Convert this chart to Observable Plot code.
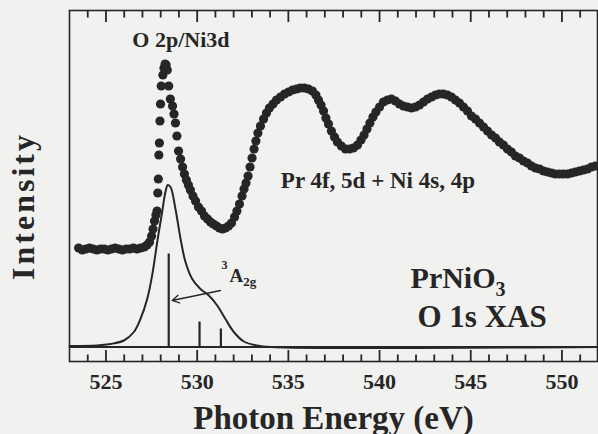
<!DOCTYPE html>
<html><head><meta charset="utf-8">
<script src="https://cdn.jsdelivr.net/npm/d3@7"></script>
<script src="https://cdn.jsdelivr.net/npm/@observablehq/plot@0.6"></script>
<style>
html,body{margin:0;padding:0;background:#f1f1ef;}
#chart{width:598px;height:434px;}
</style></head><body><div id="chart"></div>
<script>
// Experimental O 1s XAS spectrum (dots)
const expEnergy = [
523.5, 523.7, 523.9, 524.1, 524.3, 524.5, 524.7, 524.9, 525.1, 525.3, 525.5, 525.7, 525.9, 526.1, 526.3, 526.5, 526.7, 526.9, 527.1, 527.25,
527.39, 527.50, 527.58, 527.66, 527.74, 527.80, 527.84, 527.87, 527.90, 527.93, 527.96, 527.99, 528.03,
528.12, 528.18, 528.24, 528.30, 528.36,
528.44, 528.53, 528.65, 528.73, 528.81,
528.89, 528.98, 529.09, 529.20, 529.30, 529.41, 529.52, 529.63, 529.77, 529.91,
530.07, 530.24, 530.40, 530.57, 530.73, 530.89, 531.06, 531.22, 531.39, 531.55,
531.72, 531.88, 532.05, 532.18, 532.32, 532.46, 532.57, 532.68, 532.79, 532.90,
533.01, 533.12, 533.22, 533.33, 533.47, 533.64, 533.80, 533.96, 534.16, 534.35,
534.57, 534.79, 535.01, 535.23, 535.45, 535.66, 535.88, 536.10, 536.32, 536.51,
536.65, 536.79, 536.93, 537.06, 537.20, 537.36, 537.53, 537.69, 537.91, 538.13,
538.35, 538.57, 538.79, 538.98, 539.15, 539.31, 539.47, 539.64, 539.80, 540.00,
540.21, 540.43, 540.65, 540.87, 541.09, 541.31, 541.53, 541.75, 541.97, 542.19,
542.41, 542.63, 542.85, 543.07, 543.28, 543.50, 543.72, 543.94, 544.16, 544.38,
544.60, 544.82, 545.04, 545.26, 545.48, 545.70, 545.92, 546.14, 546.36, 546.57,
546.79, 547.01, 547.23, 547.45, 547.67, 547.89, 548.11, 548.33, 548.55, 548.77,
548.99, 549.21, 549.43, 549.64, 549.86, 550.08, 550.30, 550.52, 550.74, 550.96,
551.18, 551.40, 551.62, 551.84
];
const expIntensity = [
0.99, 0.97, 0.98, 0.99, 0.98, 0.97, 0.98, 0.98, 0.97, 0.98, 0.99, 0.98, 0.97, 0.98, 0.98, 0.99, 0.98, 0.99, 1.00, 1.02,
1.05, 1.11, 1.18, 1.26, 1.32, 1.36, 1.54, 1.68, 1.92, 2.04, 2.26, 2.43, 2.61,
2.72, 2.79, 2.83, 2.82, 2.77,
2.61, 2.48, 2.41, 2.33, 2.24,
2.11, 1.96, 1.88, 1.80, 1.73, 1.67, 1.62, 1.57, 1.51, 1.46,
1.40, 1.36, 1.31, 1.28, 1.25, 1.23, 1.21, 1.19, 1.18, 1.19,
1.21, 1.24, 1.30, 1.36, 1.43, 1.51, 1.58, 1.64, 1.71, 1.80,
1.89, 1.98, 2.06, 2.14, 2.21, 2.28, 2.34, 2.39, 2.43, 2.47,
2.50, 2.53, 2.55, 2.57, 2.58, 2.59, 2.59, 2.58, 2.56, 2.52,
2.47, 2.42, 2.36, 2.29, 2.23, 2.16, 2.10, 2.05, 2.01, 1.98,
1.98, 1.99, 2.02, 2.07, 2.12, 2.18, 2.24, 2.30, 2.35, 2.40,
2.45, 2.47, 2.48, 2.46, 2.43, 2.41, 2.40, 2.39, 2.40, 2.42,
2.45, 2.48, 2.50, 2.52, 2.53, 2.53, 2.52, 2.50, 2.47, 2.44,
2.40, 2.36, 2.31, 2.28, 2.24, 2.20, 2.16, 2.12, 2.09, 2.05,
2.02, 1.98, 1.95, 1.91, 1.89, 1.86, 1.84, 1.81, 1.79, 1.78,
1.76, 1.75, 1.74, 1.73, 1.73, 1.73, 1.73, 1.74, 1.75, 1.76,
1.77, 1.78, 1.80, 1.81
];
// Calculated spectrum (solid line)
const calcEnergy = [523.0, 524.5, 525.25, 525.98, 526.53, 526.89, 527.26, 527.53, 527.81, 528.08, 528.26, 528.39, 528.54, 528.81, 529.09, 529.36, 529.73, 530.18, 530.64, 531.10, 531.55, 532.01, 532.56, 533.29, 534.02, 552.0];
const calcIntensity = [0.01, 0.015, 0.03, 0.065, 0.15, 0.28, 0.48, 0.715, 1.05, 1.35, 1.55, 1.62, 1.60, 1.38, 1.08, 0.85, 0.68, 0.58, 0.515, 0.415, 0.28, 0.15, 0.055, 0.015, 0.0, 0.0];
// Multiplet sticks
const stickEnergy = [528.44, 530.13, 531.30];
const stickIntensity = [0.93, 0.25, 0.18];
// Axis ticks
const majorTicks = [525, 530, 535, 540, 545, 550];
const minorTicks = [524, 526, 527, 528, 529, 531, 532, 533, 534, 536, 537, 538, 539, 541, 542, 543, 544, 546, 547, 548, 549, 551];
const yDomain = [-0.145, 3.365];
// Annotations
const arrowFrom = [531.28, 0.565];
const arrowTo = [528.63, 0.465];
const labels = [
  {text: "O 2p/Ni3d", e: 529.11, v: 3.00, size: 22, anchor: "middle"},
  {text: "Pr 4f, 5d + Ni 4s, 4p", e: 539.91, v: 1.595, size: 23, anchor: "middle"},
  {text: "PrNiO3", e: 541.70, v: 0.595, size: 30, anchor: "start"},
  {text: "O 1s XAS", e: 542.08, v: 0.205, size: 31, anchor: "start"},
  {text: "3A2g", e: 531.33, v: 0.655, size: 19, anchor: "start"}
];
const xLabel = "Photon Energy (eV)";
const yLabel = "Intensity";

const ink = "#262626";
const serif = "'Liberation Serif', 'Times New Roman', Times, serif";

const expData = expEnergy.map((e, i) => ({e, v: expIntensity[i]}));
const calcData = calcEnergy.map((e, i) => ({e, v: calcIntensity[i]}));
const stickData = stickEnergy.map((e, i) => ({e, v: stickIntensity[i]}));
const arrowData = [{x1: arrowFrom[0], y1: arrowFrom[1], x2: arrowTo[0], y2: arrowTo[1]}];

// inward tick marks: bottom edge ticks point up, top edge ticks point down
const minorLen = 0.07, majorLen = 0.115;
const [yLo, yHi] = yDomain;
const tickData = [
  ...minorTicks.map(t => ({t, a: yLo, b: yLo + minorLen})),
  ...majorTicks.map(t => ({t, a: yLo, b: yLo + majorLen})),
  ...minorTicks.map(t => ({t, a: yHi, b: yHi - minorLen})),
  ...majorTicks.map(t => ({t, a: yHi, b: yHi - majorLen}))
];

const marks = [
  Plot.frame({stroke: ink, strokeWidth: 1.6}),
  Plot.link(tickData, {x1: "t", x2: "t", y1: "a", y2: "b", stroke: ink, strokeWidth: 1.8}),
  Plot.axisX({anchor: "bottom", ticks: majorTicks, tickSize: 0, tickPadding: 12, label: null, fill: ink, fontSize: 22, fontWeight: "bold", tickFormat: d => String(d)}),
  Plot.ruleY([0], {stroke: ink, strokeWidth: 2.2}),
  Plot.line(calcData, {x: "e", y: "v", stroke: ink, strokeWidth: 2, curve: "catmull-rom"}),
  Plot.ruleX(stickData, {x: "e", y1: 0, y2: "v", stroke: ink, strokeWidth: 2.2}),
  Plot.arrow(arrowData, {x1: "x1", y1: "y1", x2: "x2", y2: "y2", stroke: ink, strokeWidth: 1.3, headLength: 9}),
  Plot.dot(expData, {x: "e", y: "v", r: 4.6, fill: ink, stroke: "none"}),
  ...labels.map(l => Plot.text([l], {x: "e", y: "v", text: "text", fontSize: l.size, fontWeight: "bold", textAnchor: l.anchor, lineAnchor: "bottom", fill: ink})),
  Plot.text([xLabel], {frameAnchor: "bottom", textAnchor: "middle", lineAnchor: "bottom", dy: 67, fontSize: 33, fontWeight: "bold", fill: ink}),
  Plot.text([yLabel], {frameAnchor: "left", textAnchor: "middle", lineAnchor: "bottom", rotate: -90, dx: -35.5, dy: 20, fontSize: 32, fontWeight: "bold", fill: ink})
];

const chart = Plot.plot({
  width: 598, height: 434,
  marginLeft: 69, marginRight: 1, marginTop: 10, marginBottom: 73,
  x: {domain: [523, 551.95], label: null},
  y: {domain: yDomain, label: null, axis: null},
  style: {fontFamily: serif, color: ink, background: "transparent", overflow: "visible"},
  marks
});

// sub/superscripts and spacing
const NS = "http://www.w3.org/2000/svg";
function rich(node, parts) {
  node.textContent = "";
  for (const p of parts) {
    const t = document.createElementNS(NS, "tspan");
    t.textContent = p.t;
    if (p.size) t.setAttribute("font-size", p.size);
    if (p.dy) t.setAttribute("dy", p.dy);
    if (p.dx) t.setAttribute("dx", p.dx);
    node.appendChild(t);
  }
}
chart.querySelectorAll("text").forEach(node => {
  const s = node.textContent;
  if (s === "PrNiO3") rich(node, [{t: "PrNiO"}, {t: "3", size: 20, dy: 8}]);
  else if (s === "3A2g") rich(node, [{t: "3", size: 12, dy: -12.7}, {t: "A", size: 19, dy: 12.7, dx: 2}, {t: "2g", size: 13, dy: 4}]);
  else if (s === yLabel) node.setAttribute("letter-spacing", "3");
});

document.getElementById("chart").appendChild(chart);
</script>
</body></html>
